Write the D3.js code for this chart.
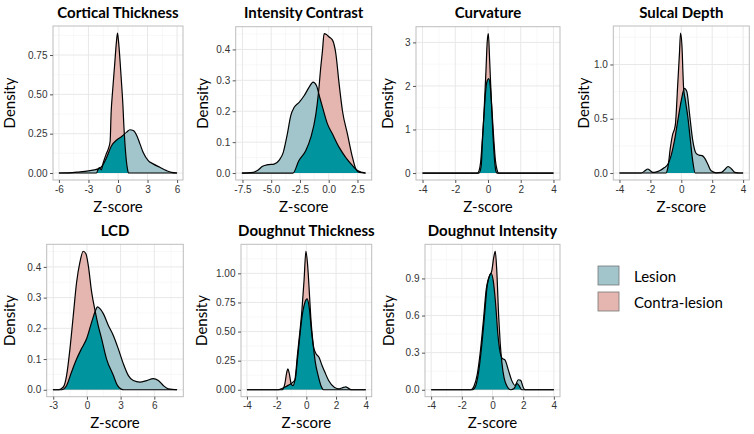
<!DOCTYPE html>
<html><head><meta charset="utf-8">
<script src="https://cdn.jsdelivr.net/npm/d3@7"></script>
<style>body{margin:0;background:#fff} svg{display:block}</style>
</head><body><svg id="c" width="754" height="434"></svg>
<script>
// ---------------- DATA ----------------
const titles = ["Cortical Thickness","Intensity Contrast","Curvature","Sulcal Depth","LCD","Doughnut Thickness","Doughnut Intensity"];
const seriesNames = ["Lesion","Contra-lesion"];

const ctLesion = [[-6,0],[-5,0.001],[-4,0.006],[-3,0.013],[-2.4,0.02],[-2,0.026],[-1.8,0.032],[-1.55,0.05],[-1.15,0.10],[-0.64,0.175],[-0.13,0.21],[0.37,0.232],[0.88,0.26],[1.21,0.275],[1.55,0.27],[1.89,0.24],[2.23,0.185],[2.56,0.13],[3.07,0.079],[3.57,0.058],[4.25,0.036],[4.93,0.015],[5.43,0.004],[6,0]];
const ctContra = [[-6,0],[-2.2,0],[-1.9,0.035],[-1.7,0.02],[-1.5,0.065],[-1.2,0.12],[-1.0,0.15],[-0.8,0.2],[-0.7,0.38],[-0.55,0.52],[-0.35,0.68],[-0.15,0.84],[-0.05,0.89],[0.05,0.84],[0.2,0.72],[0.35,0.58],[0.5,0.43],[0.58,0.32],[0.65,0.24],[0.8,0.11],[0.95,0.03],[1.1,0],[6,0]];

const icLesion = [[-7.55,0],[-6.8,0.001],[-6.2,0.008],[-5.75,0.022],[-5.3,0.027],[-4.75,0.029],[-4.3,0.042],[-3.95,0.067],[-3.6,0.126],[-3.3,0.186],[-3.0,0.213],[-2.57,0.229],[-2.14,0.25],[-1.7,0.278],[-1.36,0.294],[-1.07,0.283],[-0.78,0.245],[-0.54,0.213],[-0.11,0.159],[0.33,0.126],[0.91,0.083],[1.49,0.05],[2.07,0.024],[2.5,0.008],[2.93,0.002],[3.2,0]];
const icContra = [[-7.55,0],[-3.1,0],[-2.6,0.04],[-2.0,0.072],[-1.55,0.116],[-1.12,0.19],[-0.89,0.26],[-0.69,0.343],[-0.54,0.397],[-0.4,0.451],[-0.2,0.448],[0.04,0.44],[0.33,0.43],[0.62,0.386],[0.9,0.29],[1.2,0.2],[1.63,0.126],[2.07,0.05],[2.36,0.013],[2.65,0.002],[3.2,0]];

const cvLesion = [[-4,0],[-0.65,0],[-0.55,0.05],[-0.45,0.25],[-0.35,0.75],[-0.25,1.3],[-0.15,1.85],[-0.05,2.12],[0.05,2.17],[0.15,1.95],[0.25,1.4],[0.35,0.8],[0.45,0.3],[0.55,0.08],[0.65,0],[4,0]];
const cvContra = [[-4,0],[-0.55,0],[-0.42,0.15],[-0.33,0.8],[-0.23,1.5],[-0.13,2.3],[-0.05,3.0],[0.02,3.2],[0.1,2.6],[0.2,1.7],[0.3,0.9],[0.4,0.3],[0.48,0.05],[0.55,0],[4,0]];

const sdLesion = [[-4,0],[-2.6,0],[-2.35,0.02],[-2.17,0.037],[-2.0,0.02],[-1.84,0.005],[-1.6,0.01],[-1.41,0.02],[-1.09,0.05],[-0.87,0.08],[-0.66,0.16],[-0.44,0.3],[-0.23,0.48],[0,0.67],[0.2,0.78],[0.36,0.75],[0.53,0.55],[0.74,0.3],[0.96,0.18],[1.15,0.165],[1.35,0.16],[1.5,0.14],[1.71,0.083],[1.93,0.02],[2.25,0.002],[2.6,0.006],[2.8,0.03],[3.03,0.06],[3.25,0.037],[3.46,0.006],[3.8,0],[4,0]];
const sdContra = [[-4,0],[-1.0,0],[-0.87,0.05],[-0.7,0.24],[-0.55,0.36],[-0.45,0.4],[-0.38,0.45],[-0.23,0.82],[-0.12,1.1],[-0.05,1.29],[0.05,1.15],[0.1,0.95],[0.15,0.78],[0.25,0.68],[0.42,0.52],[0.59,0.3],[0.74,0.11],[0.9,0],[4,0]];

const lcdLesion = [[-3.03,0],[-2.26,0],[-1.81,0.014],[-1.37,0.058],[-0.92,0.1],[-0.48,0.134],[-0.03,0.166],[0.42,0.22],[0.71,0.253],[0.95,0.27],[1.16,0.264],[1.46,0.248],[1.9,0.21],[2.35,0.177],[2.79,0.134],[3.24,0.085],[3.68,0.047],[4.13,0.03],[4.72,0.025],[5.32,0.03],[5.91,0.036],[6.36,0.03],[6.8,0.014],[7.25,0.003],[8.03,0]];
const lcdContra = [[-3.03,0],[-2.55,0],[-2.1,0.009],[-1.81,0.047],[-1.51,0.134],[-1.22,0.24],[-0.92,0.35],[-0.62,0.416],[-0.33,0.451],[-0.09,0.443],[0.12,0.405],[0.42,0.318],[0.71,0.26],[1.0,0.21],[1.31,0.166],[1.75,0.1],[2.35,0.047],[2.7,0.015],[3.05,0.002],[3.3,0],[8.03,0]];

const dtLesion = [[-4,0],[-1.9,0],[-1.5,0.02],[-1.2,0.04],[-0.9,0.065],[-0.75,0.09],[-0.6,0.26],[-0.45,0.45],[-0.3,0.62],[-0.12,0.74],[0.05,0.78],[0.2,0.7],[0.35,0.5],[0.5,0.36],[0.65,0.31],[0.85,0.28],[1.05,0.21],[1.25,0.15],[1.5,0.08],[1.9,0.02],[2.2,0.008],[2.5,0.02],[2.65,0.025],[2.85,0.012],[3.05,0],[4,0]];
const dtContra = [[-4,0],[-1.62,0],[-1.45,0.05],[-1.32,0.15],[-1.24,0.18],[-1.15,0.14],[-1.02,0.05],[-0.9,0.035],[-0.75,0.1],[-0.6,0.3],[-0.45,0.48],[-0.3,0.68],[-0.15,0.95],[-0.03,1.19],[0.08,1.08],[0.2,0.84],[0.3,0.62],[0.45,0.4],[0.6,0.24],[0.8,0.12],[1.0,0.03],[1.15,0],[4,0]];

const diLesion = [[-4,0],[-1.4,0],[-1.2,0.03],[-1.0,0.12],[-0.8,0.3],[-0.6,0.55],[-0.4,0.82],[-0.25,0.9],[-0.08,0.94],[0.05,0.88],[0.2,0.7],[0.35,0.45],[0.5,0.3],[0.62,0.255],[0.82,0.24],[1.04,0.157],[1.25,0.076],[1.47,0.035],[1.68,0.081],[1.84,0.076],[2.0,0.02],[2.12,0],[4,0]];
const diContra = [[-4,0],[-1.3,0],[-1.1,0.03],[-0.9,0.15],[-0.7,0.36],[-0.5,0.63],[-0.35,0.84],[-0.2,0.92],[-0.05,0.96],[0.08,1.07],[0.18,1.12],[0.28,0.96],[0.4,0.6],[0.5,0.38],[0.62,0.21],[0.75,0.1],[0.9,0.04],[1.05,0.01],[1.2,0],[1.4,0.01],[1.6,0.05],[1.75,0.03],[1.9,0],[4,0]];

const ctXTicks = [-6,-3,0,3,6],          ctYTicks = [0,0.25,0.5,0.75];
const icXTicks = [-7.5,-5,-2.5,0,2.5],   icYTicks = [0,0.1,0.2,0.3,0.4];
const cvXTicks = [-4,-2,0,2,4],          cvYTicks = [0,1,2,3];
const sdXTicks = [-4,-2,0,2,4],          sdYTicks = [0,0.5,1.0];
const lcdXTicks = [-3,0,3,6],            lcdYTicks = [0,0.1,0.2,0.3,0.4];
const dtXTicks = [-4,-2,0,2,4],          dtYTicks = [0,0.25,0.5,0.75,1.0];
const diXTicks = [-4,-2,0,2,4],          diYTicks = [0,0.3,0.6,0.9];

const xFormats = ["d",".1f","d","d","d","d","d"];
const yFormats = [".2f",".1f","d",".1f",".1f",".2f",".1f"];

// ---------------- LAYOUT / STYLE ----------------
const panels = [
  {lesion:ctLesion, contra:ctContra, xt:ctXTicks, yt:ctYTicks},
  {lesion:icLesion, contra:icContra, xt:icXTicks, yt:icYTicks},
  {lesion:cvLesion, contra:cvContra, xt:cvXTicks, yt:cvYTicks},
  {lesion:sdLesion, contra:sdContra, xt:sdXTicks, yt:sdYTicks},
  {lesion:lcdLesion, contra:lcdContra, xt:lcdXTicks, yt:lcdYTicks},
  {lesion:dtLesion, contra:dtContra, xt:dtXTicks, yt:dtYTicks},
  {lesion:diLesion, contra:diContra, xt:diXTicks, yt:diYTicks}
];
const layout = [
  {l:53,   r:183,   t:26,    b:180,   ylab:14.5, tY:18,  xlY:212},
  {l:235.7,r:371.7, t:26.7,  b:180,   ylab:207.5,tY:18,  xlY:212},
  {l:416,  r:560,   t:26.7,  b:180,   ylab:392.5,tY:18,  xlY:212},
  {l:613.3,r:749.3, t:26,    b:180,   ylab:589,  tY:18,  xlY:212},
  {l:46.7, r:183.3, t:244.3, b:396.7, ylab:14.5, tY:236, xlY:428},
  {l:241,  r:371.7, t:244.3, b:396.7, ylab:206.5,tY:236, xlY:428},
  {l:425,  r:560,   t:244.3, b:396.7, ylab:394,  tY:236, xlY:428}
];
const colLesion = "#a2c5cb", colContra = "#e5b6b0", colOverlap = "#00949f";
const textFont = "Lato, 'Open Sans', sans-serif";
const tickFont = "'Liberation Sans', Arial, sans-serif";

const svg = d3.select("#c");
const fix = f => v => d3.format(f)(v).replace("\u2212","-");

function minors(ticks, dom){
  const step = ticks[1]-ticks[0];
  const out = [];
  for (let k=-1;k<ticks.length;k++){
    const m = (k<0? ticks[0]-step/2 : ticks[k]+step/2);
    if (m>dom[0] && m<dom[1]) out.push(m);
  }
  return out;
}

panels.forEach((p,i)=>{
  const L = layout[i];
  const all = p.lesion.concat(p.contra);
  const xmin = d3.min(all,d=>d[0]), xmax = d3.max(all,d=>d[0]);
  const ymax = d3.max(all,d=>d[1]);
  const xr = xmax-xmin;
  const xd = [xmin-0.05*xr, xmax+0.05*xr], yd = [-0.05*ymax, ymax*1.05];
  const x = d3.scaleLinear().domain(xd).range([L.l,L.r]);
  const y = d3.scaleLinear().domain(yd).range([L.b,L.t]);
  const g = svg.append("g");

  g.append("rect").attr("x",L.l).attr("y",L.t).attr("width",L.r-L.l).attr("height",L.b-L.t).attr("fill","#fff");
  minors(p.xt,xd).forEach(v=>g.append("line").attr("x1",x(v)).attr("x2",x(v)).attr("y1",L.t).attr("y2",L.b).attr("stroke","#f4f4f4").attr("stroke-width",0.6));
  minors(p.yt,yd).forEach(v=>g.append("line").attr("y1",y(v)).attr("y2",y(v)).attr("x1",L.l).attr("x2",L.r).attr("stroke","#f4f4f4").attr("stroke-width",0.6));
  p.xt.forEach(v=>g.append("line").attr("x1",x(v)).attr("x2",x(v)).attr("y1",L.t).attr("y2",L.b).attr("stroke","#e8e8e8").attr("stroke-width",1));
  p.yt.forEach(v=>g.append("line").attr("y1",y(v)).attr("y2",y(v)).attr("x1",L.l).attr("x2",L.r).attr("stroke","#e8e8e8").attr("stroke-width",1));

  const area = d3.area().x(d=>x(d[0])).y0(y(0)).y1(d=>y(d[1])).curve(d3.curveMonotoneX);
  const line = d3.line().x(d=>x(d[0])).y(d=>y(d[1])).curve(d3.curveMonotoneX);
  g.append("clipPath").attr("id","clipc"+i).append("path").attr("d",area(p.contra));
  g.append("path").attr("d",area(p.lesion)).attr("fill",colLesion);
  g.append("path").attr("d",area(p.contra)).attr("fill",colContra);
  g.append("path").attr("d",area(p.lesion)).attr("fill",colOverlap).attr("clip-path",`url(#clipc${i})`);
  g.append("path").attr("d",line(p.lesion)).attr("fill","none").attr("stroke","#000").attr("stroke-width",1.2);
  g.append("path").attr("d",line(p.contra)).attr("fill","none").attr("stroke","#000").attr("stroke-width",1.2);

  g.append("rect").attr("x",L.l).attr("y",L.t).attr("width",L.r-L.l).attr("height",L.b-L.t)
    .attr("fill","none").attr("stroke","#bdbdbd").attr("stroke-width",1);

  const xa = g.append("g").attr("transform",`translate(0,${L.b})`)
    .call(d3.axisBottom(x).tickValues(p.xt).tickSize(3).tickPadding(2.5).tickFormat(fix(xFormats[i])));
  const ya = g.append("g").attr("transform",`translate(${L.l},0)`)
    .call(d3.axisLeft(y).tickValues(p.yt).tickSize(3).tickPadding(2.5).tickFormat(fix(yFormats[i])));
  [xa,ya].forEach(a=>{
    a.select(".domain").remove();
    a.selectAll("line").attr("stroke","#555");
    a.selectAll("text").attr("fill","#333").style("font-family",tickFont).style("font-size","10px");
  });

  g.append("text").attr("x",(L.l+L.r)/2).attr("y",L.tY).attr("text-anchor","middle")
    .style("font-family",textFont).style("font-weight","bold").style("font-size","15px").attr("fill","#000").text(titles[i]);
  g.append("text").attr("x",(L.l+L.r)/2).attr("y",L.xlY).attr("text-anchor","middle")
    .style("font-family",textFont).style("font-size","15px").attr("fill","#000").text("Z-score");
  g.append("text").attr("transform",`translate(${L.ylab},${(L.t+L.b)/2}) rotate(-90)`).attr("text-anchor","middle")
    .style("font-family",textFont).style("font-size","15px").attr("fill","#000").text("Density");
});

// legend
const legCols = [colLesion, colContra];
const leg = svg.append("g");
seriesNames.forEach((s,k)=>{
  leg.append("rect").attr("x",598).attr("y",266+k*26).attr("width",21).attr("height",19)
    .attr("fill",legCols[k]).attr("stroke","#777").attr("stroke-width",0.8);
  leg.append("text").attr("x",634).attr("y",282+k*26).style("font-family",textFont).style("font-size","15px")
    .attr("fill","#000").text(s);
});
</script></body></html>
